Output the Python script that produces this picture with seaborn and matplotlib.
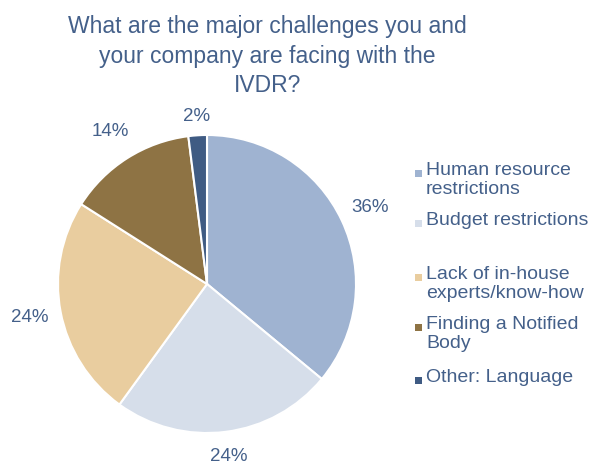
import matplotlib
matplotlib.use("Agg")
import matplotlib.pyplot as plt
import seaborn as sns
from matplotlib.patches import Rectangle

categories = ["Human resource\nrestrictions", "Budget restrictions",
              "Lack of in-house\nexperts/know-how", "Finding a Notified\nBody",
              "Other: Language"]
values = [36, 24, 24, 14, 2]
colors = ["#9FB3D1", "#D6DEEA", "#E9CD9F", "#8E7344", "#3F5B83"]
title = "What are the major challenges you and\nyour company are facing with the\nIVDR?"

sns.set_theme(style="white")
plt.rcParams['font.family'] = ['Liberation Sans', 'DejaVu Sans']
text_color = "#44608A"

W, H = 595, 468
fig = plt.figure(figsize=(W / 100, H / 100), dpi=100)
fig.patch.set_facecolor("white")

cx, cy, r = 207, 284, 149
ax = fig.add_axes([(cx - r) / W, 1 - (cy + r) / H, 2 * r / W, 2 * r / H])
wedges, texts, autotexts = ax.pie(
    values, colors=colors, startangle=90, counterclock=False,
    autopct=lambda p: f"{p:.0f}%", pctdistance=1.21,
    wedgeprops=dict(edgecolor="white", linewidth=1.5),
    textprops=dict(color=text_color, fontsize=13.5))
for t, f in ((autotexts[1], 0.965), (autotexts[-1], 0.93)):
    px, py = t.get_position()
    t.set_position((px * f, py * f))
ax.set_xlim(-1, 1)
ax.set_ylim(-1, 1)
ax.set_aspect("equal")
ax.axis("off")

fig.text(0.5 - 30 / W, 1 - 56 / H, title, ha="center", va="center",
         fontsize=16.5, color=text_color, linespacing=1.38)

# legend
leg_y = [173, 223, 277, 327, 380]
for lab, col, y in zip(categories, colors, leg_y):
    s = 7
    fig.patches.append(Rectangle(((418 - s / 2) / W, 1 - (y + s / 2) / H), s / W, s / H,
                                 transform=fig.transFigure, facecolor=col,
                                 edgecolor="none"))
    fig.text(426 / W, 1 - (y - 11) / H, lab, ha="left", va="top",
             fontsize=14, color=text_color, linespacing=1.18)

fig.savefig("out.png", dpi=100, facecolor="white")
